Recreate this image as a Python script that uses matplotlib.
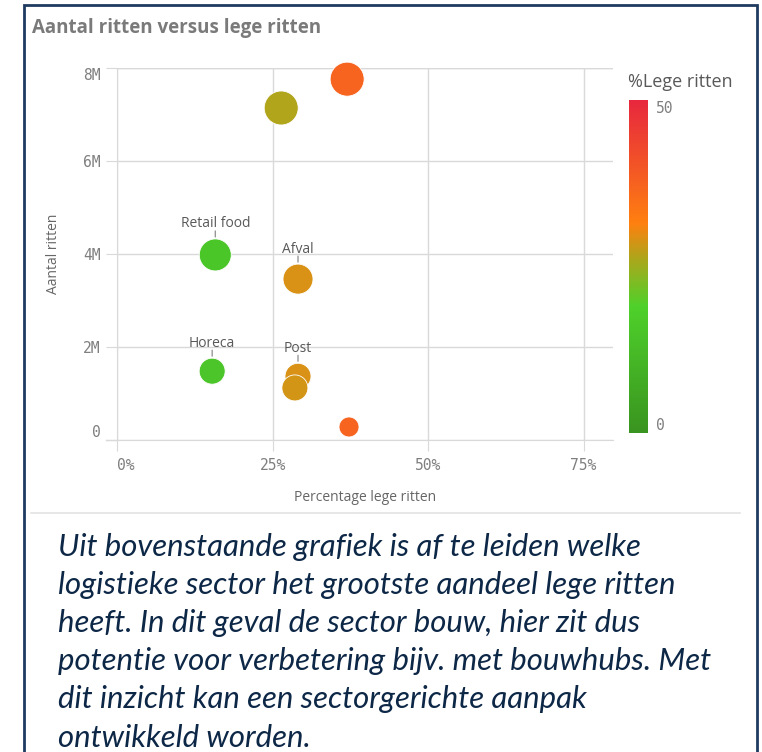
import matplotlib
matplotlib.use("Agg")
import matplotlib.pyplot as plt
from matplotlib.colors import LinearSegmentedColormap, Normalize
from matplotlib.lines import Line2D
from matplotlib.patches import Rectangle
import numpy as np

# sectoren: % lege ritten, aantal ritten, bubbelgrootte
pct_leeg = [37.0, 26.4, 15.8, 29.1, 15.3, 29.1, 28.6, 37.3]
aantal = [7.76e6, 7.14e6, 3.98e6, 3.46e6, 1.48e6, 1.37e6, 1.12e6, 0.28e6]
omvang = [17, 17, 16, 15, 13, 13, 13, 10]
labels = ["", "", "Retail food", "Afval", "Horeca", "Post", "", ""]

x_ticks = [0, 25, 50, 75]
x_ticklabels = ["0%", "25%", "50%", "75%"]
y_ticks = [0, 2e6, 4e6, 6e6, 8e6]
y_ticklabels = ["0", "2M", "4M", "6M", "8M"]

tekst = ("Uit bovenstaande grafiek is af te leiden welke\n"
         "logistieke sector het grootste aandeel lege ritten\n"
         "heeft. In dit geval de sector bouw, hier zit dus\n"
         "potentie voor verbetering bijv. met bouwhubs. Met\n"
         "dit inzicht kan een sectorgerichte aanpak\n"
         "ontwikkeld worden.")

W, H = 762, 752
grijs = "#7f7f7f"
raster = "#d9d9d9"
mono = "DejaVu Sans Mono"
sans = "Open Sans"

kleuren = LinearSegmentedColormap.from_list("leeg", [
    (0.0, "#3a9420"), (0.38, "#4fd12b"), (0.52, "#aaa81c"),
    (0.63, "#ff8010"), (0.82, "#f25129"), (1.0, "#e8283e")])
norm = Normalize(0, 50)


def fx(px):
    return px / W


def fy(py):
    return 1 - py / H


fig = plt.figure(figsize=(W / 100, H / 100), dpi=100)

# kader
fig.add_artist(Rectangle((fx(24), fy(770)), fx(757) - fx(24), fy(5) - fy(770),
                         transform=fig.transFigure, fill=False,
                         edgecolor="#1f3a5f", linewidth=2))
fig.add_artist(Line2D([fx(31), fx(740)], [fy(513), fy(513)],
                      transform=fig.transFigure, color="#e3e3e3", lw=1.2))

fig.text(fx(32), fy(28), "Aantal ritten versus lege ritten", fontsize=13.5,
         fontweight="bold", color="#7a7a7a", family=sans, va="center")

ax = fig.add_axes([fx(117), fy(440), fx(613) - fx(117), fy(68) - fy(440)])
ax.set_xlim(0, 79.74)
ax.set_ylim(0, 8e6)
for s in ["top", "right"]:
    ax.spines[s].set_visible(False)
ax.spines["left"].set_color(raster)
ax.spines["bottom"].set_color(raster)
ax.set_axisbelow(True)
ax.grid(True, color=raster, lw=1)
ax.axhline(8e6, color=raster, lw=1)

ax.set_xticks(x_ticks)
ax.set_xticklabels(x_ticklabels)
ax.set_yticks(y_ticks)
ax.set_yticklabels(y_ticklabels)
ax.tick_params(axis="both", colors=raster, labelcolor=grijs, labelsize=10.5)
ax.tick_params(axis="x", length=8, pad=5)
ax.tick_params(axis="y", length=8, pad=4)
for t in ax.get_xticklabels() + ax.get_yticklabels():
    t.set_family(mono)
ax.get_xticklabels()[0].set_ha("left")
ax.get_yticklabels()[0].set_va("bottom")
ax.get_yticklabels()[-1].set_va("top")

fig.add_artist(Line2D([fx(106), fx(117)], [fy(440), fy(440)],
                      transform=fig.transFigure, color=raster, lw=1))

ax.set_xlabel("Percentage lege ritten", fontsize=10, color="#666666",
              family=sans, labelpad=12)
ax.set_ylabel("Aantal ritten", fontsize=10, color="#666666",
              family=sans, labelpad=16)

ax.scatter(pct_leeg, aantal, s=[(1.44 * r) ** 2 for r in omvang],
           c=pct_leeg, cmap=kleuren, norm=norm, edgecolors="white",
           linewidths=0.6, zorder=3, clip_on=False)

# labels met een kort streepje naar de bubbel
for x, y, r, lab in zip(pct_leeg, aantal, omvang, labels):
    if lab:
        ax.annotate(lab, (x, y), xytext=(0, (r + 15) * 0.72),
                    textcoords="offset points", ha="center", va="center",
                    fontsize=10, color="#595959", family=sans)
        ax.annotate("", (x, y), xytext=(0, (r + 8) * 0.72),
                    textcoords="offset points",
                    arrowprops=dict(arrowstyle="-", color="#8c8c8c", lw=0.9,
                                    shrinkA=0, shrinkB=(r + 2) * 0.72))

# kleurenlegenda
cax = fig.add_axes([fx(629), fy(433), fx(648) - fx(629), fy(100) - fy(433)])
cax.imshow(np.linspace(0, 50, 256)[:, None], cmap=kleuren, norm=norm,
           aspect="auto", origin="lower", extent=[0, 1, 0, 50])
cax.set_axis_off()
fig.text(fx(628), fy(82), "%Lege ritten", fontsize=13, color="#595959",
         family=sans, va="center")
fig.text(fx(656), fy(101), "50", fontsize=10.5, color=grijs, family=mono,
         va="top")
fig.text(fx(656), fy(433), "0", fontsize=10.5, color=grijs, family=mono,
         va="bottom")

fig.text(fx(58), fy(533), tekst, fontsize=22.4, style="italic",
         color="#0d2747", family="Lato", va="top", linespacing=1.44)

fig.savefig("out.png", dpi=100)
